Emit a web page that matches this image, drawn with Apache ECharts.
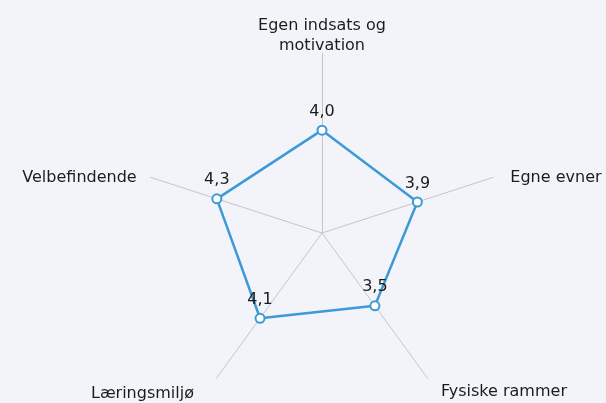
<!DOCTYPE html>
<html>
<head>
<meta charset="utf-8">
<script src="https://cdn.jsdelivr.net/npm/echarts@6/dist/echarts.min.js"></script>
<style>
    html, body { margin: 0; padding: 0; background: #f2f4f9; }
    #chart { width: 606px; height: 403px; }
</style>
</head>
<body>
<div id="chart"></div>
<script>
// Kategorier i urets retning, startende øverst
const categories = ['Egen indsats og\nmotivation', 'Egne evner', 'Fysiske rammer', 'Læringsmiljø', 'Velbefindende'];
const scores = [4.0, 3.9, 3.5, 4.1, 4.3];
const axisMax = 7;

// ECharts lægger akserne mod uret, så rækkefølgen vendes (første bliver øverst)
const order = [0, 4, 3, 2, 1];

// luft omkring hvert aksenavn (top, højre, bund, venstre)
const namePadding = {
    'Egne evner': [0, 20, 0, 20],
    'Fysiske rammer': [32, 15, 0, 15],
    'Læringsmiljø': [36, 24, 0, 24],
    'Velbefindende': [0, 17, 0, 17]
};

document.addEventListener('DOMContentLoaded', function() {
    const chart = echarts.init(document.getElementById('chart'));

    const rich = {};
    Object.keys(namePadding).forEach((name, k) => {
        rich['n' + k] = { fontSize: 16, color: '#1c1c1c', padding: namePadding[name] };
    });

    const option = {
        backgroundColor: '#f2f4f9',
        textStyle: { fontFamily: 'DejaVu Sans' },
        radar: {
            center: [322, 233],
            radius: 180,
            startAngle: 90,
            shape: 'polygon',
            nameGap: -3,
            indicator: order.map(i => ({ name: categories[i], min: 0, max: axisMax })),
            axisName: {
                color: '#1c1c1c',
                fontSize: 16,
                lineHeight: 20,
                formatter: function(name) {
                    const k = Object.keys(namePadding).indexOf(name);
                    if (k < 0) return name;
                    return '{n' + k + '|' + name + '}';
                },
                rich: rich
            },
            axisLine: {
                lineStyle: { color: '#c4c6ce', width: 1 }
            },
            axisTick: { show: false },
            axisLabel: { show: false },
            splitLine: { show: false },
            splitArea: { show: false }
        },
        series: [
            {
                type: 'radar',
                symbol: 'emptyCircle',
                symbolSize: 9,
                lineStyle: { color: '#3d9ad6', width: 2.5 },
                itemStyle: { color: '#3d9ad6', borderWidth: 2.5 },
                label: {
                    show: true,
                    position: 'top',
                    distance: 5,
                    color: '#1a1a1a',
                    fontSize: 16,
                    formatter: function(p) {
                        return p.value.toFixed(1).replace('.', ',');
                    }
                },
                data: [
                    { value: order.map(i => scores[i]) }
                ]
            }
        ]
    };

    chart.setOption(option);
});
</script>
</body>
</html>
